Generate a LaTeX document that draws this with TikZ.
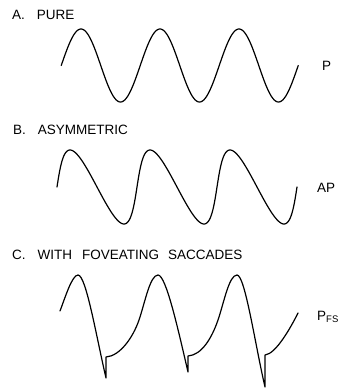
\documentclass[tikz,border=0pt]{standalone}
\usepackage{fontspec}
\setmainfont{Liberation Sans}
\usepackage{tikz}
\usetikzlibrary{positioning}
\newcommand{\lblgap}{\hspace{12pt}}
\tikzset{
  trace/.style={line width=1.2pt, line join=round, line cap=round},
  panel/.style={anchor=base west, inner sep=0pt, font=\fontsize{13.5}{16}\selectfont},
}

\begin{document}
\begin{tikzpicture}[x=1pt, y=-1pt]
  \useasboundingbox (0,0) rectangle (339,388);

  % A: pure sine
  \node[panel] (lblA) at (12,19) {A.\lblgap PURE};
  \draw[trace] plot[domain=-90:990, samples=300, variable=\t]
    ({81+0.219444*\t}, {65.5-36.5*cos(\t)});
  \node[panel] (tagP) at (322,70) {P};

  % B: fast rise, slow fall
  \node[panel] (lblB) at (13,134) {B.\lblgap ASYMMETRIC};
  \draw[trace] plot[domain=-90:990, samples=300, variable=\t]
    ({70+0.222222*\t+7*(1-cos(\t))}, {187-37*cos(\t)});
  \node[panel] (tagAP) at (317,192) {AP};

  % C: each fall ends in a saccade
  \node[panel] (lblC) at (12,259) {C.\lblgap WITH\hspace{10pt}FOVEATING\hspace{9pt}SACCADES};
  \draw[trace] (60,311) .. controls (65,298) and (72,275) .. (78,275)
    .. controls (86,275) and (96,335) .. (106,378) -- (106,357)
    .. controls (120,356) and (133,337.5) .. (139,320)
    .. controls (145,302.5) and (150,275) .. (158,275)
    .. controls (166,275) and (178,329) .. (188,372) -- (188,356)
    .. controls (202,355) and (212,337.5) .. (218,320)
    .. controls (224,302.5) and (229,275) .. (237,275)
    .. controls (245,275) and (255,344) .. (265,387) -- (265,355)
    .. controls (276,354) and (291,327) .. (298,313);
  \node[panel] (tagPFS) at (317,320) {P\raisebox{-2pt}{\fontsize{9.5}{10}\selectfont FS}};
\end{tikzpicture}
\end{document}
